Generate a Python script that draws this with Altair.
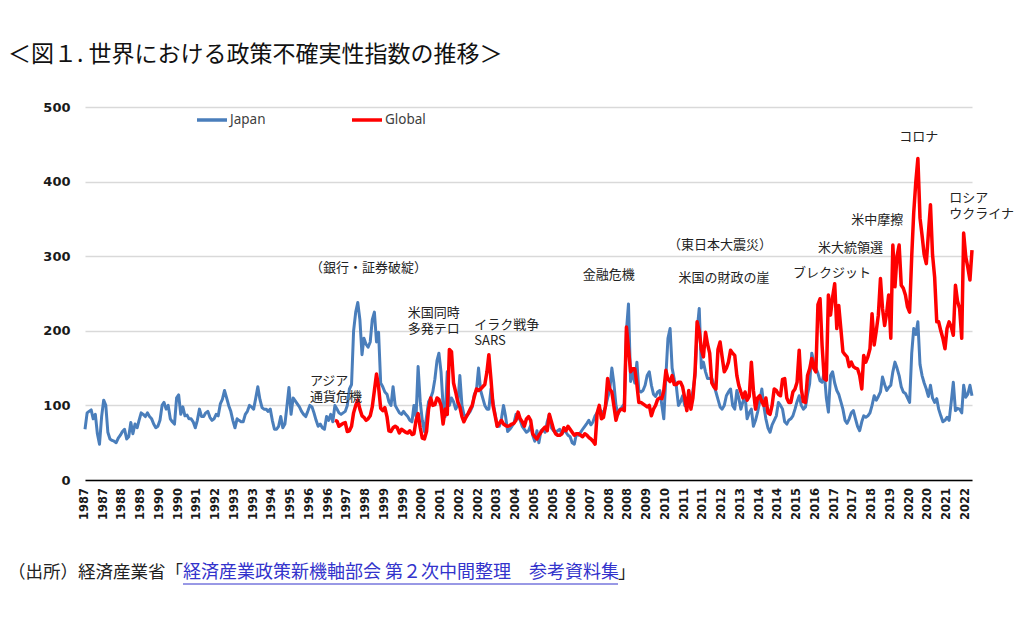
import altair as alt
import pandas as pd

# ---------------- data (monthly) ----------------
JAPAN = [
    68, 90, 92, 94, 82, 88, 62, 48, 85, 107, 100, 64,        # 1987
    55, 53, 52, 50, 56, 60, 65, 68, 55, 58, 77, 62,          # 1988
    75, 70, 80, 90, 88, 85, 90, 85, 82, 75, 70, 72,          # 1989
    80, 100, 104, 95, 100, 82, 78, 75, 110, 114, 88, 98,     # 1990
    86, 87, 82, 82, 78, 70, 80, 95, 85, 85, 90, 92,          # 1991
    84, 80, 82, 88, 86, 102, 108, 120, 110, 100, 92, 80,     # 1992
    70, 82, 80, 78, 78, 88, 92, 100, 98, 95, 110, 125,       # 1993
    108, 97, 95, 95, 92, 95, 80, 68, 68, 72, 85, 70,         # 1994
    75, 100, 124, 88, 110, 106, 102, 98, 92, 88, 85, 92,     # 1995
    100, 98, 90, 80, 72, 75, 70, 68, 85, 80, 88, 78,         # 1996
    100, 95, 90, 88, 90, 92, 100, 122, 128, 200, 225, 238,   # 1997
    215, 168, 190, 182, 178, 185, 215, 225, 185, 198, 130, 125,  # 1998
    118, 115, 105, 100, 125, 100, 95, 90, 88, 92, 88, 85,    # 1999
    80, 78, 100, 85, 152, 105, 80, 65, 85, 105, 110, 118,    # 2000
    135, 160, 170, 145, 100, 85, 145, 100, 110, 105, 95, 100,  # 2001
    140, 100, 88, 85, 88, 92, 98, 115, 120, 150, 120, 110,   # 2002
    100, 95, 95, 122, 105, 88, 72, 72, 82, 100, 85, 65,      # 2003
    68, 72, 76, 88, 86, 80, 72, 68, 64, 66, 73, 60,          # 2004
    52, 66, 50, 66, 68, 64, 78, 88, 70, 66, 64, 66,          # 2005
    68, 62, 66, 64, 60, 58, 50, 48, 62, 60, 64, 68,          # 2006
    72, 76, 80, 74, 78, 86, 90, 95, 92, 90, 98, 110,         # 2007
    120, 150, 130, 100, 88, 95, 98, 102, 200, 236, 132, 145,  # 2008
    130, 158, 120, 118, 120, 127, 140, 145, 127, 115, 112, 118,  # 2009
    120, 100, 82, 140, 190, 203, 150, 135, 125, 100, 105, 113,  # 2010
    100, 98, 102, 104, 120, 140, 200, 230, 150, 158, 145, 136,  # 2011
    136, 136, 128, 118, 108, 98, 95, 100, 113, 118, 122, 100,  # 2012
    95, 120, 110, 95, 105, 113, 82, 90, 95, 72, 80, 91,      # 2013
    105, 122, 100, 82, 70, 64, 74, 80, 86, 104, 100, 95,     # 2014
    78, 75, 80, 82, 86, 95, 105, 113, 100, 95, 98, 115,      # 2015
    129, 170, 158, 150, 143, 133, 131, 145, 110, 91, 140, 145,  # 2016
    130, 120, 115, 105, 95, 80, 76, 82, 90, 93, 82, 72,      # 2017
    66, 78, 86, 84, 86, 90, 100, 113, 107, 112, 118, 138,    # 2018
    128, 120, 124, 127, 145, 158, 150, 140, 125, 118, 116, 110,  # 2019
    104, 170, 203, 195, 212, 155, 140, 130, 122, 112, 127, 110,  # 2020
    104, 109, 95, 86, 78, 80, 84, 80, 105, 131, 93, 96,      # 2021
    95, 90, 127, 111, 115, 127, 113,                         # 2022
]

GLOBAL = [
    80, 79, 72, 74, 76, 77, 65, 66, 72, 90, 100, 107,        # 1997
    95, 86, 84, 80, 82, 86, 98, 120, 142, 125, 96, 93,       # 1998
    97, 85, 66, 65, 70, 72, 70, 63, 68, 66, 64, 63,          # 1999
    66, 61, 62, 80, 89, 70, 56, 55, 65, 95, 110, 100,        # 2000
    101, 110, 108, 100, 75, 95, 88, 175, 172, 130, 118, 105,  # 2001
    98, 85, 78, 84, 89, 95, 100, 112, 122, 120, 122, 125,    # 2002
    128, 145, 168, 135, 100, 86, 72, 76, 80, 75, 73, 72,     # 2003
    73, 75, 76, 80, 91, 82, 78, 72, 82, 85, 80, 62,          # 2004
    58, 55, 60, 64, 68, 71, 66, 88, 78, 68, 62, 60,          # 2005
    60, 62, 70, 66, 72, 68, 64, 60, 62, 62, 60, 58,          # 2006
    62, 60, 57, 55, 52, 48, 90, 100, 82, 84, 100, 136,       # 2007
    122, 118, 100, 80, 90, 94, 95, 93, 205, 176, 145, 149,   # 2008
    149, 128, 104, 104, 102, 100, 98, 100, 86, 95, 100, 108,  # 2009
    110, 109, 120, 147, 135, 132, 140, 128, 128, 131, 131, 125,  # 2010
    110, 93, 120, 95, 110, 145, 212, 200, 175, 165, 198, 182,  # 2011
    170, 130, 125, 122, 175, 185, 165, 145, 150, 158, 174, 170,  # 2012
    167, 140, 127, 118, 110, 118, 107, 112, 158, 120, 95, 110,  # 2013
    113, 105, 100, 110, 90, 88, 100, 122, 120, 115, 113, 135,  # 2014
    136, 110, 104, 104, 118, 122, 131, 174, 122, 105, 104, 140,  # 2015
    149, 163, 150, 145, 235, 243, 180, 136, 134, 248, 221, 245,  # 2016
    263, 203, 234, 203, 172, 168, 165, 152, 158, 152, 150, 149,  # 2017
    140, 122, 167, 158, 165, 176, 223, 181, 200, 221, 270, 230,  # 2018
    207, 225, 248, 190, 315, 259, 300, 315, 261, 257, 248, 232,  # 2019
    225, 300, 358, 400, 431, 351, 328, 302, 290, 330, 369, 302,  # 2020
    272, 212, 212, 200, 190, 176, 203, 212, 205, 194, 261, 240,  # 2021
    230, 190, 331, 299, 285, 268, 308,                       # 2022
]

SERIES = ["Japan", "Global"]
COLORS = ["#4A7EBB", "#FF0000"]

Y_TICKS = list(range(0, 501, 50))

# x category labels as printed (one every 9 months, Jan 1987 .. Apr 2022)
X_TICK_LABELS = [
    "1987", "1987", "1988", "1989", "1990", "1990", "1991", "1992", "1993", "1993",
    "1994", "1995", "1996", "1996", "1997", "1998", "1999", "1999", "2000", "2001",
    "2002", "2002", "2003", "2004", "2005", "2005", "2006", "2007", "2008", "2008",
    "2009", "2010", "2011", "2011", "2012", "2013", "2014", "2014", "2015", "2016",
    "2017", "2017", "2018", "2019", "2020", "2020", "2021", "2022",
]
X_TICK_STEP_MONTHS = 9

ANN_LABELS = ["（銀行・証券破綻）", "アジア\n通貨危機", "米国同時\n多発テロ",
              "イラク戦争\nSARS", "金融危機", "（東日本大震災）", "米国の財政の崖",
              "ブレクジット", "米大統領選", "米中摩擦", "コロナ", "ロシア\nウクライナ"]
ANN_DATES = ["1996-01-01", "1996-01-01", "1999-12-01",
             "2002-08-01", "2006-12-01", "2010-05-01", "2010-10-01",
             "2015-05-01", "2016-05-01", "2017-09-01", "2019-08-01", "2021-08-01"]
ANN_VALUES = [284, 133, 224, 208, 275, 315, 271, 277, 311, 349, 460, 378]

TITLE = "＜図１. 世界における政策不確実性指数の推移＞"
SRC_PREFIX = "（出所）経済産業省「"
SRC_LINK = "経済産業政策新機軸部会 第２次中間整理　参考資料集"
SRC_SUFFIX = "」"

# ---------------- frames ----------------
j_dates = pd.date_range("1987-01-01", periods=len(JAPAN), freq="MS")
g_dates = pd.date_range("1997-01-01", periods=len(GLOBAL), freq="MS")
df = pd.concat([
    pd.DataFrame({"date": j_dates.strftime("%Y-%m-%d"), "value": JAPAN, "series": "Japan"}),
    pd.DataFrame({"date": g_dates.strftime("%Y-%m-%d"), "value": GLOBAL, "series": "Global"}),
], ignore_index=True)

ann = pd.DataFrame({"label": ANN_LABELS, "date": ANN_DATES, "value": ANN_VALUES})

tick_dates = pd.date_range("1987-01-01", periods=len(X_TICK_LABELS),
                           freq=f"{X_TICK_STEP_MONTHS}MS")
ticks = pd.DataFrame({"date": tick_dates.strftime("%Y-%m-%d"), "label": X_TICK_LABELS})

x_domain = [alt.DateTime(year=1987, month=1, date=1, utc=True),
            alt.DateTime(year=2022, month=7, date=1, utc=True)]
x_scale = alt.Scale(type="utc", domain=x_domain, nice=False)

x_enc = alt.X(
    "date:T", scale=x_scale,
    axis=alt.Axis(labels=False, grid=False, ticks=False, domainColor="#000000",
                  domainWidth=1.5, title=None),
)
y_enc = alt.Y(
    "value:Q",
    scale=alt.Scale(domain=[0, 500], nice=False),
    axis=alt.Axis(values=Y_TICKS, grid=True, gridColor="#d9d9d9", gridWidth=1.3,
                  domain=False, ticks=False, labelFont="DejaVu Sans",
                  labelFontWeight="bold", labelFontSize=13, labelColor="#1a1a1a",
                  labelPadding=15, title=None),
)
color_enc = alt.Color(
    "series:N",
    scale=alt.Scale(domain=SERIES, range=COLORS),
    legend=alt.Legend(title=None, orient="none", legendX=110, legendY=-4,
                      direction="horizontal", columns=2, columnPadding=79,
                      symbolType="stroke", symbolSize=900, symbolStrokeWidth=3.5,
                      labelFont="Noto Sans", labelFontSize=13.5, labelColor="#404040",
                      labelOffset=1, padding=0),
)

base = alt.Chart(df)
japan_line = base.transform_filter(alt.datum.series == "Japan").mark_line(
    strokeWidth=3, strokeJoin="round").encode(x=x_enc, y=y_enc, color=color_enc)
global_line = base.transform_filter(alt.datum.series == "Global").mark_line(
    strokeWidth=3.5, strokeJoin="round").encode(x=x_enc, y=y_enc, color=color_enc)

# x category labels, placed through the same time scale
x_labels = alt.Chart(ticks).mark_text(
    angle=270, align="right", baseline="middle", font="DejaVu Sans",
    fontWeight="bold", fontSize=11.5, color="#1a1a1a").encode(
    x=alt.X("date:T", scale=x_scale), y=alt.value(381), text="label:N")

ann_text = alt.Chart(ann).mark_text(
    align="left", baseline="middle", font="Noto Sans CJK JP", fontSize=13,
    lineBreak="\n", lineHeight=16, color="#222222").encode(
    x=alt.X("date:T", scale=x_scale), y="value:Q", text="label:N")

title_text = alt.Chart(pd.DataFrame({"t": [TITLE]})).mark_text(
    align="left", baseline="middle", font="Noto Sans CJK JP", fontSize=23,
    color="#111111").encode(x=alt.value(-77), y=alt.value(-52), text="t:N")

src1 = alt.Chart(pd.DataFrame({"t": [SRC_PREFIX]})).mark_text(
    align="left", baseline="middle", font="Noto Sans CJK JP", fontSize=17.5,
    color="#222222").encode(x=alt.value(-77), y=alt.value(466), text="t:N")
src2 = alt.Chart(pd.DataFrame({"t": [SRC_LINK]})).mark_text(
    align="left", baseline="middle", font="Noto Sans CJK JP", fontSize=18,
    color="#3333cc").encode(x=alt.value(98), y=alt.value(466), text="t:N")
src3 = alt.Chart(pd.DataFrame({"t": [SRC_SUFFIX]})).mark_text(
    align="left", baseline="middle", font="Noto Sans CJK JP", fontSize=17.5,
    color="#222222").encode(x=alt.value(533), y=alt.value(466), text="t:N")
underline = alt.Chart(pd.DataFrame({"t": [SRC_LINK]})).mark_rule(
    color="#3333cc", strokeWidth=1).encode(x=alt.value(98), x2=alt.value(533),
                                           y=alt.value(477))

chart = alt.layer(
    japan_line, global_line, x_labels, ann_text, title_text, src1, src2, src3, underline
).properties(
    width=887, height=373,
    padding={"left": 77, "top": 99, "right": 44, "bottom": 140},
    autosize=alt.AutoSizeParams(type="none"),
).configure_view(stroke=None)

chart.save("out.html", embed_options={"renderer": "svg", "actions": False})
